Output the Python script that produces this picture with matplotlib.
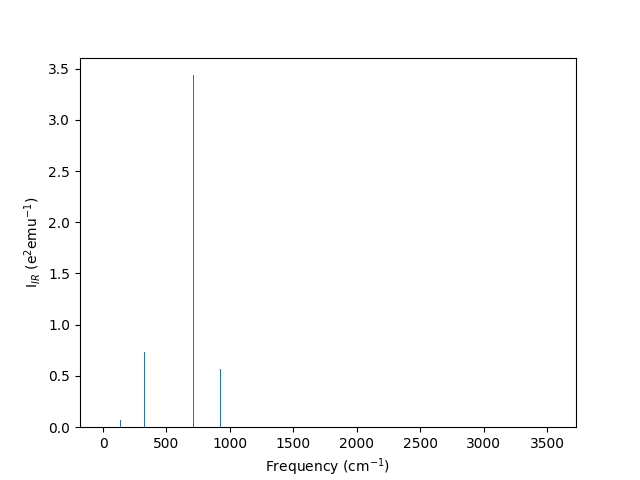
import matplotlib
matplotlib.use('Agg')
import matplotlib.pyplot as plt

# vibrational modes (cm^-1) and IR intensities
freqs = [0.0, 135.0, 325.0, 711.0, 924.0, 3547.0]
intensities = [0.0, 0.068, 0.733, 3.435, 0.567, 0.0]

fig = plt.figure(figsize=(6.4, 4.8), dpi=100)
plt.bar(freqs, intensities, width=8)
plt.xlabel('Frequency (cm$^{-1}$)')
plt.ylabel('I$_{IR}$ (e$^2$emu$^{-1}$)')
fig.savefig('out.png')
